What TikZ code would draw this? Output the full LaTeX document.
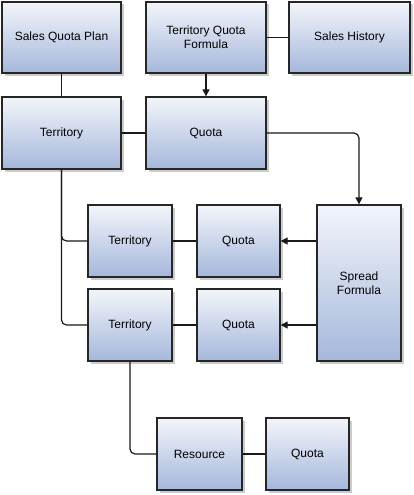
\documentclass[tikz,border=0pt]{standalone}
\usepackage{fontspec}
\setmainfont{Liberation Sans}
\usetikzlibrary{arrows.meta,shadows}
\definecolor{boxtop}{HTML}{F3F5FB}
\definecolor{boxbot}{HTML}{A5B7DB}

\begin{document}
\begin{tikzpicture}[
    x=1pt, y=-1pt,
    box/.style={rectangle, draw=black!85, line width=1.3pt,
        top color=boxtop, bottom color=boxbot,
        drop shadow={shadow xshift=2.5pt, shadow yshift=-2.5pt, fill=black!20, opacity=1},
        inner sep=2pt, align=center, font=\fontsize{12}{14}\selectfont},
    link/.style={line width=1.2pt, draw=black!90, rounded corners=5pt},
    arr/.style={link, -{Triangle[length=7pt, width=7pt]}}
]
    \useasboundingbox (0,0) rectangle (414,495);
    \node[box, minimum width=119pt, minimum height=71pt] (plan) at (61.5,37.5) {Sales Quota Plan};
    \node[box, minimum width=120pt, minimum height=71pt] (formula) at (206,37.5) {Territory Quota\\Formula};
    \node[box, minimum width=121pt, minimum height=71pt] (history) at (349.5,37.5) {Sales History};
    \node[box, minimum width=119pt, minimum height=72pt] (terr0) at (61.5,133) {Territory};
    \node[box, minimum width=120pt, minimum height=72pt] (quota0) at (206,133) {Quota};
    \node[box, minimum width=84pt, minimum height=72pt] (terr1) at (130,241) {Territory};
    \node[box, minimum width=83pt, minimum height=72pt] (quota1) at (238.5,241) {Quota};
    \node[box, minimum width=84pt, minimum height=156pt] (spread) at (359,283) {Spread\\Formula};
    \node[box, minimum width=84pt, minimum height=72pt] (terr2) at (130,325) {Territory};
    \node[box, minimum width=83pt, minimum height=72pt] (quota2) at (238.5,325) {Quota};
    \node[box, minimum width=85pt, minimum height=72pt] (res) at (199.5,454) {Resource};
    \node[box, minimum width=83pt, minimum height=72pt] (quota3) at (307.5,454) {Quota};
    \draw[link] (plan) -- (terr0);
    \draw[link] (formula) -- (history);
    \draw[arr] (formula) -- (quota0);
    \draw[link] (terr0) -- (quota0);
    \draw[arr] (quota0.east) -| (spread.north);
    \draw[arr] (spread.west |- quota1) -- (quota1.east);
    \draw[arr] (spread.west |- quota2) -- (quota2.east);
    \draw[link] (terr0.south) |- (terr1.west);
    \draw[link] (terr0.south) |- (terr2.west);
    \draw[link] (terr1) -- (quota1);
    \draw[link] (terr2) -- (quota2);
    \draw[link] (terr2.south) |- (res.west);
    \draw[link] (res) -- (quota3);
\end{tikzpicture}
\end{document}
